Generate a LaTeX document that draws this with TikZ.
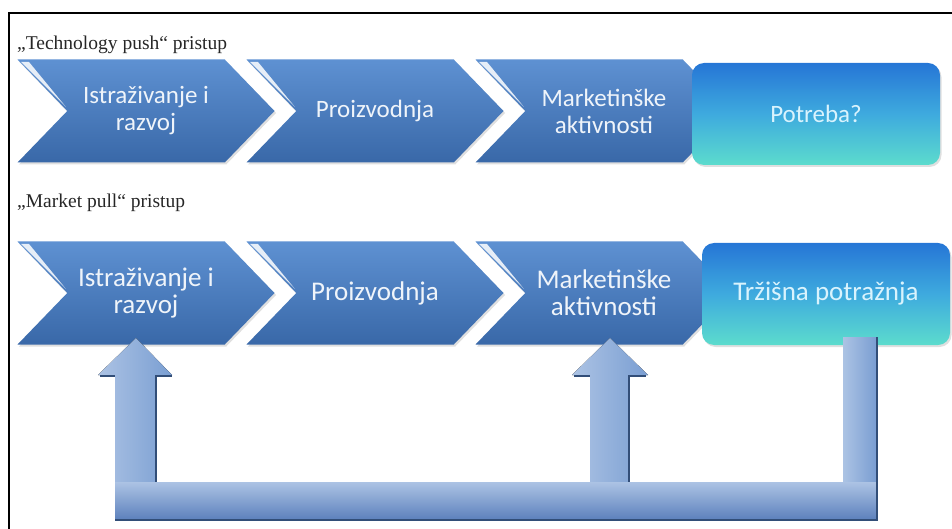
\documentclass[tikz,border=0pt]{standalone}
\usepackage{fontspec}
\setmainfont{Liberation Serif}
\newfontfamily\calibri{Carlito}
\usetikzlibrary{shapes.symbols,shadows,calc}

\definecolor{chevtop}{RGB}{94,145,210}
\definecolor{chevbot}{RGB}{57,104,168}
\definecolor{boxtop}{RGB}{38,118,214}
\definecolor{boxmid}{RGB}{62,170,222}
\definecolor{boxbot}{RGB}{92,220,205}
\definecolor{arrlight}{RGB}{172,195,228}
\definecolor{arrmid}{RGB}{122,158,210}
\definecolor{arrbot}{RGB}{92,128,188}
\definecolor{arrdark}{RGB}{50,78,120}

\tikzset{x=1pt, y=-1pt,
  chevron/.style={signal, signal from=west, signal to=east, signal pointer angle=92,
    minimum width=257pt, minimum height=103pt, inner sep=0pt, draw=none,
    top color=chevtop, bottom color=chevbot,
    drop shadow={opacity=.25, shadow xshift=1.5pt, shadow yshift=-2pt},
    text=white!90!chevtop, align=center, font=\calibri\fontsize{25}{27}\selectfont},
  demand/.style={rectangle, rounded corners=12pt, minimum width=248pt, minimum height=102pt,
    draw=none, top color=boxtop, bottom color=boxbot, middle color=boxmid,
    drop shadow={opacity=.25, shadow xshift=1.5pt, shadow yshift=-2pt},
    text=white!85!cyan, align=center, font=\calibri\fontsize{25}{27}\selectfont},
  big/.style={font=\calibri\fontsize{27}{27}\selectfont},
  rowlabel/.style={anchor=west, inner sep=0pt, text=black!85, font=\fontsize{19.5}{20}\selectfont},
  gloss/.style={white, opacity=.85},
  shaft/.style={left color=arrlight, right color=arrmid},
  bar/.style={top color=arrlight, bottom color=arrbot},
  arredge/.style={arrdark, line width=1.5pt}
}

\begin{document}
\begin{tikzpicture}
  \useasboundingbox (0,0) rectangle (952,529);
  \draw[line width=1.5pt] (9,529) -- (9,13) -- (952,13);

  % technology push
  \node[rowlabel] (push) at (17,45) {„Technology push“ pristup};
  \node[chevron] (ch11) at (146,111) {Istraživanje i\\razvoj};
  \node[chevron] (ch12) at (375,111) {Proizvodnja};
  \node[chevron] (ch13) at (604,111) {Marketinške\\aktivnosti};
  \node[demand] (need) at (816,114) {Potreba?};

  % market pull
  \node[rowlabel] (pull) at (17,203) {„Market pull“ pristup};
  \node[chevron, big] (ch21) at (146,293) {Istraživanje i\\razvoj};
  \node[chevron, big] (ch22) at (375,293) {Proizvodnja};
  \node[chevron, big] (ch23) at (604,293) {Marketinške\\aktivnosti};
  \node[demand, big] (market) at (826,294) {Tržišna potražnja};

  \foreach \c in {ch11,ch12,ch13,ch21,ch22,ch23}
    \fill[gloss] ($(\c)+(-125,-49)$) -- ($(\c)+(-117,-49)$) -- ($(\c)+(-80,-4)$) -- cycle;

  % feedback loop
  \coordinate (up1) at (136,338);
  \coordinate (up2) at (610,338);
  \coordinate (down) at (843,337);
  \fill[shaft] (115,482) -- (115,375) -- (98,375) -- (up1) -- (172,375) -- (155,375) -- (155,482) -- cycle;
  \draw[arredge] (100,376) -- (115,376) (155,376) -- (172,376) (156,376) -- (156,482);
  \fill[shaft] (590,482) -- (590,375) -- (572,375) -- (up2) -- (648,375) -- (628,375) -- (628,482) -- cycle;
  \draw[arredge] (574,376) -- (590,376) (628,376) -- (646,376) (629,376) -- (629,482);
  \fill[shaft] (down) rectangle (876,482);
  \fill[bar] (115,482) rectangle (876,520);
  \draw[arredge] (115,520) -- (877,520) -- (877,337);
\end{tikzpicture}
\end{document}
